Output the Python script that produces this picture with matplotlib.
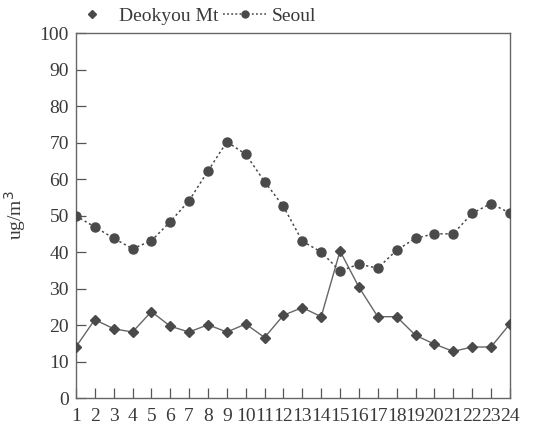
import numpy as np
import matplotlib.pyplot as plt

# hourly PM values
hours = list(range(1, 25))
deokyou = [14.0, 21.5, 19.0, 18.1, 23.7, 19.7, 18.1, 20.1, 18.1, 20.3, 16.6, 22.7,
           24.8, 22.3, 40.3, 30.4, 22.3, 22.3, 17.2, 14.8, 12.8, 14.0, 14.0, 20.3]
seoul = [49.9, 46.9, 43.8, 40.9, 43.1, 48.3, 54.1, 62.2, 70.2, 66.8, 59.3, 52.5,
         43.0, 40.0, 34.8, 36.7, 35.6, 40.5, 43.8, 45.0, 45.0, 50.6, 53.3, 50.7]
yticks = list(range(0, 101, 10))

plt.rcParams['font.family'] = ['Liberation Serif', 'DejaVu Serif']

fig = plt.figure(figsize=(5.5, 4.29), dpi=100)
ax = fig.add_axes([0.138, 0.072, 0.789, 0.851])

ink = '#4a4a4a'
ax.plot(hours, deokyou, color='#666666', lw=1.0, marker='D', ms=5,
        mfc=ink, mec=ink, label='Deokyou Mt', zorder=3)
ax.plot(hours, seoul, color=ink, lw=1.1, ls=(0, (1.5, 1.8)), marker='o', ms=6.5,
        mfc=ink, mec=ink, label='Seoul', zorder=3)

ax.set_xlim(1, 24)
ax.set_ylim(0, 100)
ax.set_xticks(hours)
ax.set_yticks(yticks)
ax.tick_params(direction='in', length=7, width=0.9, color='#555555',
               labelsize=14, labelcolor='#3a3a3a', pad=5)
ax.tick_params(axis='x', pad=7)
for s in ax.spines.values():
    s.set_color('#666666')
    s.set_linewidth(1.0)

ax.set_ylabel('ug/m$^3$', fontsize=14, color='#3a3a3a', labelpad=8)

# legend sits above the plot, markers only for Deokyou
h1 = plt.Line2D([], [], ls='none', marker='D', ms=4, mfc=ink, mec=ink)
h2 = plt.Line2D([], [], color=ink, lw=1.1, ls=(0, (1.2, 1.5)), marker='o', ms=5,
                mfc=ink, mec=ink)
fig.legend([h1, h2], ['Deokyou Mt', 'Seoul'], loc='center left',
           bbox_to_anchor=(0.128, 0.962), ncol=2, frameon=False, fontsize=14,
           handlelength=2.2, handletextpad=0.3, columnspacing=0.25,
           labelcolor='#3a3a3a', borderaxespad=0, borderpad=0)

fig.savefig('out.png', dpi=100)
